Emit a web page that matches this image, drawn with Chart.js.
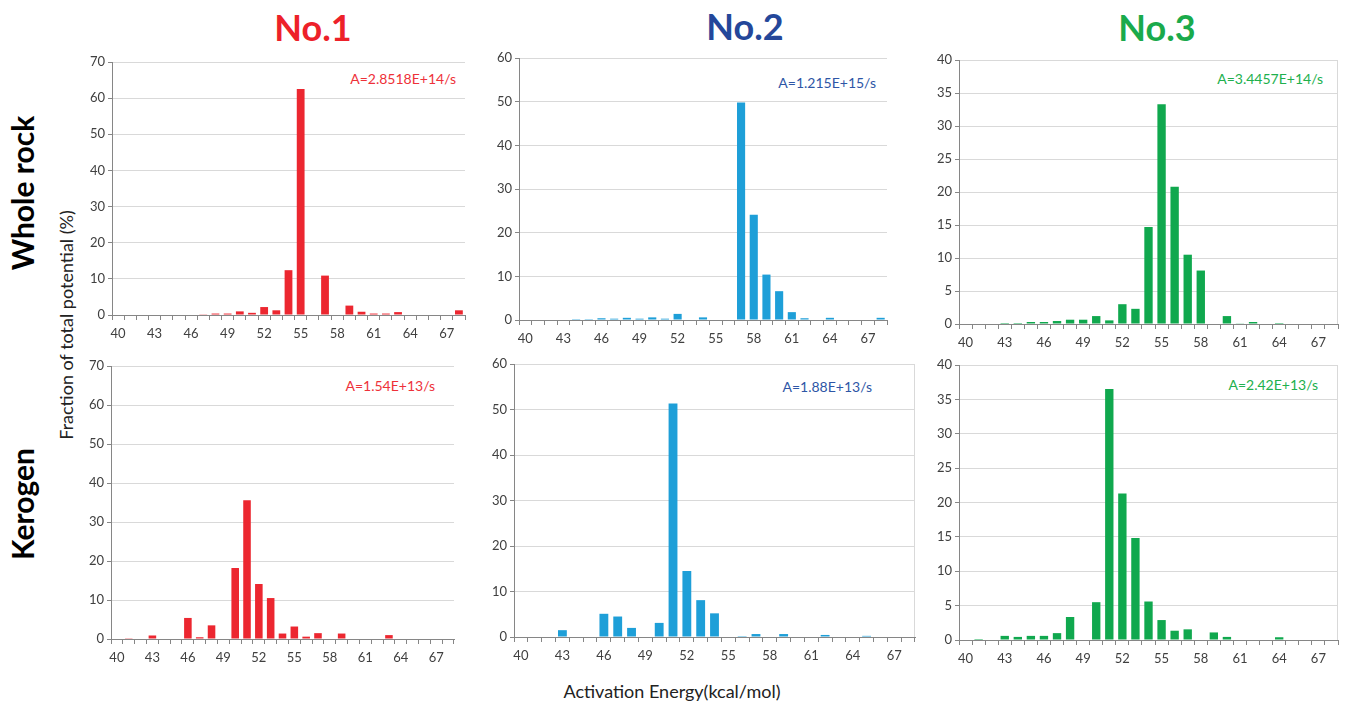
<!DOCTYPE html>
<html lang="en">
<head>
<meta charset="UTF-8">
<title>Activation energy distributions</title>
<script src="https://cdn.jsdelivr.net/npm/chart.js"></script>
<style>
  body { margin: 0; background: #fff; font-family: Lato, sans-serif; }
  #page { position: relative; width: 1350px; height: 706px; overflow: hidden; }
  #page canvas { position: absolute; }
  .label { position: absolute; white-space: nowrap; line-height: 1; }
  .head { font-weight: 700; font-size: 36px; transform: translate(-50%, -50%); }
  .row { font-weight: 700; font-size: 30px; color: #000; transform: translate(-50%, -50%) rotate(-90deg); }
  .axis-title { font-size: 18px; color: #222; transform: translate(-50%, -50%); }
  .axis-title.vertical { transform: translate(-50%, -50%) rotate(-90deg); }
  .freq { font-size: 14px; transform: translate(-100%, -50%); }
</style>
</head>
<body>
<div id="page">
  <!-- column headings -->
  <div class="label head" style="left:313px; top:27px; color:#ed2129;">No.1</div>
  <div class="label head" style="left:745px; top:26px; color:#24479a;">No.2</div>
  <div class="label head" style="left:1157px; top:27px; color:#1aaa4b;">No.3</div>

  <!-- row headings and shared axis titles -->
  <div class="label row" style="left:22px; top:193px;">Whole rock</div>
  <div class="label row" style="left:22px; top:504px;">Kerogen</div>
  <div class="label axis-title vertical" style="left:66px; top:325px;">Fraction of total potential (%)</div>
  <div class="label axis-title" style="left:672px; top:691px;">Activation Energy(kcal/mol)</div>

  <!-- frequency factors -->
  <div class="label freq" style="left:456px; top:79px; color:#ee3139;">A=2.8518E+14/s</div>
  <div class="label freq" style="left:876px; top:83px; color:#2e56a6;">A=1.215E+15/s</div>
  <div class="label freq" style="left:1323px; top:79px; color:#21b04d;">A=3.4457E+14/s</div>
  <div class="label freq" style="left:435px; top:386px; color:#ee3139;">A=1.54E+13/s</div>
  <div class="label freq" style="left:872px; top:387px; color:#2e56a6;">A=1.88E+13/s</div>
  <div class="label freq" style="left:1318px; top:385px; color:#21b04d;">A=2.42E+13/s</div>
</div>

<script>
// activation energy bins (kcal/mol) and the ones that get a label
const energies = [40, 41, 42, 43, 44, 45, 46, 47, 48, 49, 50, 51, 52, 53, 54,
                  55, 56, 57, 58, 59, 60, 61, 62, 63, 64, 65, 66, 67, 68];
const labelledEnergies = [40, 43, 46, 49, 52, 55, 58, 61, 64, 67];

// fraction of total potential (%) per bin
const wholeRockNo1 = [0, 0, 0, 0, 0, 0, 0, 0.2, 0.4, 0.4, 1.0, 0.6, 2.2, 1.3, 12.4,
                      62.5, 0, 10.9, 0, 2.6, 0.9, 0.4, 0.4, 0.8, 0, 0, 0, 0, 1.3];
const wholeRockNo2 = [0, 0, 0, 0, 0.2, 0.2, 0.4, 0.3, 0.5, 0.3, 0.6, 0.3, 1.4, 0, 0.6,
                      0, 0, 49.8, 24.1, 10.4, 6.6, 1.8, 0.4, 0, 0.5, 0, 0, 0, 0.5];
const wholeRockNo3 = [0, 0, 0, 0.15, 0.15, 0.3, 0.3, 0.45, 0.65, 0.65, 1.2, 0.55, 3.0, 2.3, 14.7,
                      33.3, 20.8, 10.5, 8.1, 0, 1.2, 0.05, 0.3, 0, 0.15, 0, 0, 0, 0];
const kerogenNo1 = [0, 0.2, 0, 0.9, 0, 0, 5.4, 0.45, 3.5, 0, 18.2, 35.6, 14.1, 10.5, 1.4,
                    3.2, 0.6, 1.5, 0, 1.4, 0, 0, 0, 1.0, 0, 0, 0, 0, 0];
const kerogenNo2 = [0, 0, 0, 1.5, 0, 0, 5.1, 4.5, 2.0, 0, 3.1, 51.3, 14.5, 8.1, 5.2,
                    0, 0.2, 0.65, 0, 0.65, 0, 0, 0.45, 0, 0, 0.25, 0, 0, 0];
const kerogenNo3 = [0, 0.15, 0, 0.6, 0.45, 0.6, 0.6, 1.0, 3.35, 0, 5.5, 36.5, 21.3, 14.85, 5.6,
                    2.9, 1.35, 1.55, 0, 1.1, 0.45, 0, 0, 0, 0.4, 0, 0, 0, 0];

const RED = '#ec2730', BLUE = '#1e9fd8', GREEN = '#10a84e';

// plot area of each panel: [left, top, right, bottom]
const panels = [
  { values: wholeRockNo1, color: RED,   yMax: 70, yStep: 10, box: [112, 62, 465, 315],  edge: false },
  { values: wholeRockNo2, color: BLUE,  yMax: 60, yStep: 10, box: [519, 58, 887, 320],  edge: false },
  { values: wholeRockNo3, color: GREEN, yMax: 40, yStep: 5,  box: [959, 60, 1338, 324], edge: true },
  { values: kerogenNo1,   color: RED,   yMax: 70, yStep: 10, box: [111, 366, 454, 639], edge: false },
  { values: kerogenNo2,   color: BLUE,  yMax: 60, yStep: 10, box: [514, 364, 915, 637], edge: true },
  { values: kerogenNo3,   color: GREEN, yMax: 40, yStep: 5,  box: [959, 365, 1338, 640], edge: true }
];

// thin border on the right side of the plot area
const plotEdge = {
  id: 'plotEdge',
  afterDraw(chart, args, opts) {
    if (!opts.display) return;
    const { ctx, chartArea } = chart;
    ctx.save();
    ctx.strokeStyle = '#d9d9d9';
    ctx.lineWidth = 1;
    ctx.beginPath();
    ctx.moveTo(Math.round(chartArea.right) - 0.5, chartArea.top);
    ctx.lineTo(Math.round(chartArea.right) - 0.5, chartArea.bottom);
    ctx.stroke();
    ctx.restore();
  }
};

const tickFont = { family: 'Lato', size: 13 };

function makePanel(p) {
  const [l, t, r, b] = p.box;
  const canvas = document.createElement('canvas');
  canvas.width = r - l + 56;
  canvas.height = b - t + 40;
  canvas.style.left = (l - 50) + 'px';
  canvas.style.top = (t - 12) + 'px';
  document.getElementById('page').appendChild(canvas);

  new Chart(canvas, {
    type: 'bar',
    data: {
      labels: energies,
      datasets: [{
        data: p.values,
        backgroundColor: p.color,
        barPercentage: 0.64,
        categoryPercentage: 1
      }]
    },
    options: {
      responsive: false,
      animation: false,
      layout: { padding: { top: 12, right: 6, left: 0, bottom: 0 } },
      plugins: {
        legend: { display: false },
        tooltip: { enabled: false },
        plotEdge: { display: p.edge }
      },
      scales: {
        x: {
          afterFit: s => { s.height = 28; },
          grid: { offset: true, drawOnChartArea: false, tickLength: 5, tickColor: '#868686' },
          border: { color: '#868686' },
          ticks: {
            autoSkip: false,
            maxRotation: 0,
            padding: 6,
            color: '#404040',
            font: tickFont,
            callback: (v, i) => labelledEnergies.includes(energies[i]) ? String(energies[i]) : ''
          }
        },
        y: {
          min: 0,
          max: p.yMax,
          afterFit: s => { s.width = 50; },
          grid: { color: '#d9d9d9', tickColor: '#868686', tickLength: 4 },
          border: { color: '#868686' },
          ticks: { stepSize: p.yStep, padding: 3, color: '#404040', font: tickFont }
        }
      }
    },
    plugins: [plotEdge]
  });
}

panels.forEach(makePanel);
</script>
</body>
</html>
